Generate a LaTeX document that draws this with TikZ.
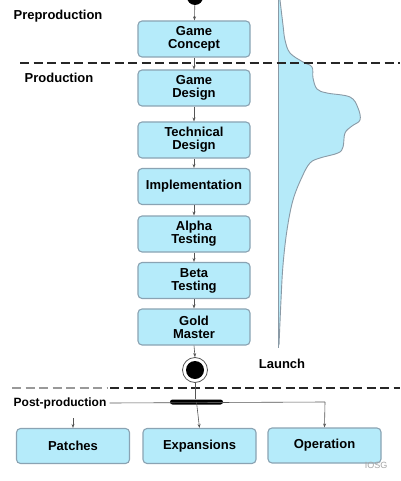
\documentclass[tikz,border=0pt]{standalone}
\usepackage{fontspec}
\setmainfont{Liberation Sans}
\usetikzlibrary{arrows.meta}
\definecolor{boxfill}{HTML}{B5EBFA}
\definecolor{boxline}{HTML}{8AA3B3}
\definecolor{curvefill}{HTML}{B5EAF9}
\definecolor{curveline}{HTML}{8A9AA6}
\definecolor{conn}{HTML}{555555}
\tikzset{
  stage/.style={draw=boxline, line width=1.1pt, fill=boxfill, rounded corners=4pt,
    minimum width=112pt, minimum height=36pt, inner sep=1pt, align=center,
    font=\fontsize{13}{13}\selectfont\bfseries},
  phase/.style={font=\fontsize{13}{13}\selectfont\bfseries, inner sep=0pt},
  flow/.style={draw=conn, line width=0.6pt, -{Stealth[length=4pt,width=3pt]}},
  plain/.style={draw=conn, line width=0.6pt},
  sep/.style={line width=2.8pt, dash pattern=on 9pt off 4.5pt, draw=black!85},
}
\begin{document}
\begin{tikzpicture}[x=1pt,y=-1pt]
\useasboundingbox (0,0) rectangle (400,481);
\fill[white] (0,0) rectangle (400,481);

% production curve
\fill[curvefill] (278,0) -- plot[smooth, tension=0.6] coordinates {
  (280,0) (283,25) (285,40) (290,53) (303,62) (312,67) (313,78) (317,89) (327,93)
  (350,97) (358,108) (360,120) (352,126) (345,133) (343,147) (338,153) (320,158)
  (310,163) (302,177) (293,200) (287,230) (283,265) (281,300) (279,345)} -- (278,345) -- cycle;
\draw[curveline, line width=0.9pt] plot[smooth, tension=0.6] coordinates {
  (280,0) (283,25) (285,40) (290,53) (303,62) (312,67) (313,78) (317,89) (327,93)
  (350,97) (358,108) (360,120) (352,126) (345,133) (343,147) (338,153) (320,158)
  (310,163) (302,177) (293,200) (287,230) (283,265) (281,300) (279,345)};
\draw[curveline, line width=1pt] (278,0) -- (278,348);

% separators
\draw[sep] (20,63) -- (400,63);
\draw[line width=2pt, dash pattern=on 9pt off 4.5pt, draw=black!40] (12,388) -- (108,388);
\draw[sep] (110,388) -- (400,388);

% phase labels
\node[phase] (pre) at (58,16) {Preproduction};
\node[phase] (prod) at (59,78) {Production};
\node[phase] (launch) at (282,364) {Launch};
\node[phase, font=\fontsize{12}{12}\selectfont\bfseries] (post) at (60,403) {Post-production};

% start and end
\node[circle, fill=black, minimum size=16pt, inner sep=0pt] (start) at (195,-3) {};
\node[circle, draw=conn, fill=white, line width=0.8pt, minimum size=25pt, inner sep=0pt] (endo) at (195,370) {};
\node[circle, fill=black, minimum size=18pt, inner sep=0pt] (endi) at (195,370) {};

% stage boxes
\node[stage] (gc) at (194,39) {Game\\Concept};
\node[stage] (gd) at (194,88) {Game\\Design};
\node[stage] (td) at (194,140) {Technical\\Design};
\node[stage] (im) at (194,186.5) {Implementation};
\node[stage] (at) at (194,234) {Alpha\\Testing};
\node[stage] (bt) at (194,280.5) {Beta\\Testing};
\node[stage] (gm) at (194,327) {Gold\\Master};

\draw[flow] (start) -- (gc);
\draw[flow] (gc) -- (gd);
\draw[flow] (gd) -- (td);
\draw[flow] (td) -- (im);
\draw[flow] (im) -- (at);
\draw[flow] (at) -- (bt);
\draw[flow] (bt) -- (gm);
\draw[flow] (gm.south) -- (endo.north);

% fork bar
\node[fill=black, rounded corners=2.5pt, minimum width=53pt, minimum height=5pt, inner sep=0pt] (bar) at (196.5,402) {};
\draw[plain] (endo.south) -- (bar.north -| endo.south);

% bottom boxes
\node[stage, minimum width=113pt, minimum height=35pt] (pa) at (73,446) {Patches};
\node[stage, minimum width=113pt, minimum height=35pt] (ex) at (199.5,446) {Expansions};
\node[stage, minimum width=113pt, minimum height=35pt] (op) at (324.5,445.5) {Operation};

\coordinate (postend) at (110,402);
\coordinate (corner) at (325,402);
\coordinate (pastart) at (73,418);
\draw[plain] (post.east) ++(3pt,0) -- (corner);
\draw[flow] (corner) -- (op.north);
\draw[flow] (bar.center) -- (ex.north);
\draw[flow] (pastart) -- (pa.north);

% watermark
\node[text=black!35, font=\fontsize{9}{9}\selectfont, inner sep=0pt] (wm) at (376,465) {IOSG};
\end{tikzpicture}
\end{document}
